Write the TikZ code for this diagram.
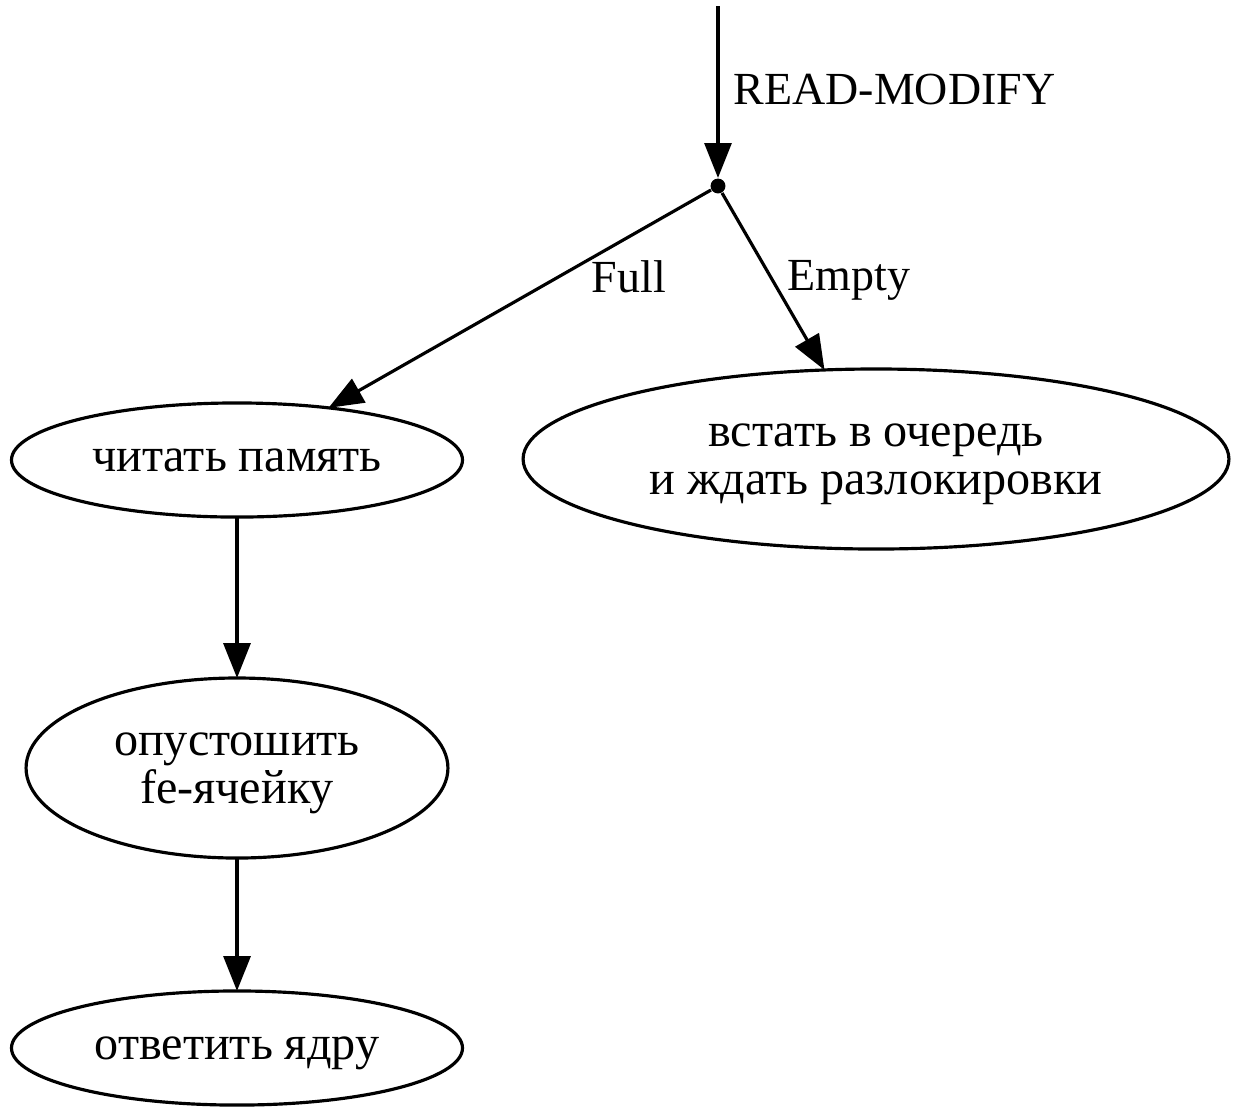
\documentclass[tikz,border=0pt]{standalone}
\usepackage{fontspec}
\setmainfont{Liberation Serif}
\usetikzlibrary{arrows.meta,positioning,shapes.geometric}

\begin{document}
\begin{tikzpicture}[
    x=0.3155pt,
    y=-0.3155pt,
    font=\fontsize{14.5}{15.2}\selectfont,
    >=Latex,
    state/.style={
        ellipse,
        draw=black,
        line width=1pt,
        inner sep=0pt,
        outer sep=0pt,
        text depth=0pt,
        align=center,
        font=\fontsize{15.2}{15.2}\selectfont
    },
    junction/.style={
        circle,
        fill=black,
        inner sep=0pt,
        minimum size=4.7pt
    },
    arrow/.style={
        -{Triangle[length=11pt,width=8.5pt]},
        draw=black,
        line width=1pt
    },
    elabel/.style={
        inner sep=0pt
    }
]
\useasboundingbox (0,0) rectangle (1235,1109);

\coordinate (start) at (718,6);
\node[junction] (fork) at (718,186) {};

\node[state, minimum width=142.3pt, minimum height=36pt] (readmem) at (237,460) {читать память};
\node[state, minimum width=222.7pt, minimum height=56.8pt] (enqueue) at (876,459) {встать в очередь\\и ждать разлокировки};
\node[state, minimum width=133.1pt, minimum height=56.8pt] (clearfe) at (237,768) {опустошить\\fe-ячейку};
\node[state, minimum width=142.3pt, minimum height=36pt] (reply) at (237,1048) {ответить ядру};

\draw[arrow] (start) -- (fork);
\node[elabel, anchor=west] (lblrm) at (733,90) {READ-MODIFY};

\draw[arrow] (fork) -- (readmem);
\node[elabel] (lblfull) at (629,277) {Full};

\draw[arrow] (fork) -- (enqueue);
\node[elabel] (lblempty) at (849,280) {Empty};

\foreach \a/\b in {readmem/clearfe,clearfe/reply}
    \draw[arrow] (\a) -- (\b);

\end{tikzpicture}
\end{document}
